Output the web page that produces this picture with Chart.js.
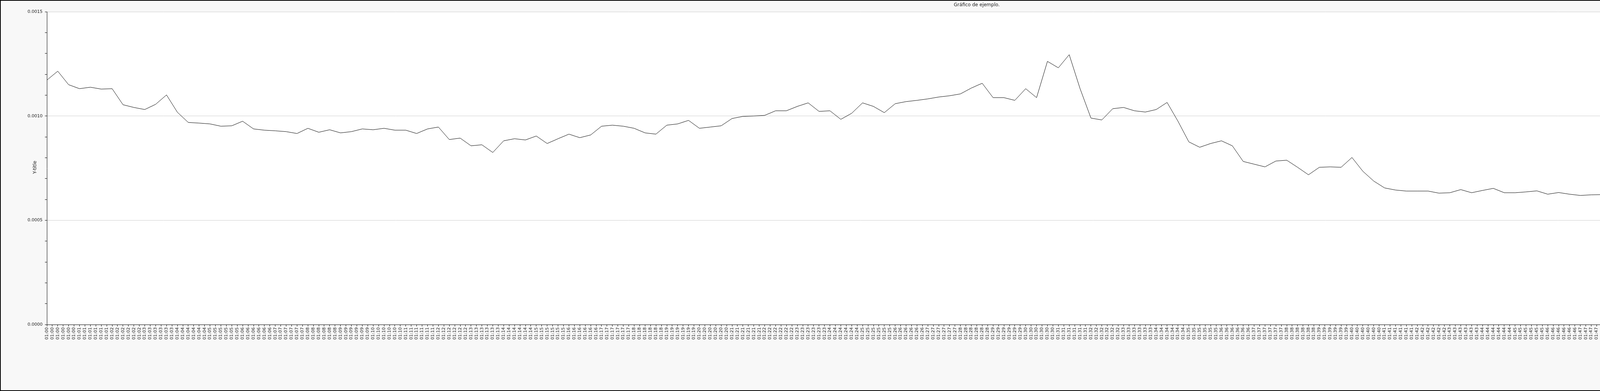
<!DOCTYPE html>
<html>
<head>
<meta charset="utf-8">
<script src="https://cdn.jsdelivr.net/npm/chart.js@4"></script>
<style>
  body { margin: 0; background: #f8f8f8; }
  canvas { display: block; }
</style>
</head>
<body>
<canvas id="chart" width="5000" height="1000"></canvas>
<script>
// seconds since 01:00:00, one reading every 20 s, then the drop to zero
const times = [];
for (let t = 0; t <= 3360; t += 20) times.push(t);
times.push(3372, 3374, 3420);

const values = [
  0.001172, 0.001215, 0.001150, 0.001131, 0.001138, 0.001129, 0.001131, 0.001054, 0.001041, 0.001031,
  0.001056, 0.001101, 0.001018, 0.000969, 0.000966, 0.000962, 0.000951, 0.000953, 0.000975, 0.000938,
  0.000932, 0.000929, 0.000925, 0.000916, 0.000941, 0.000922, 0.000934, 0.000919, 0.000925, 0.000938,
  0.000934, 0.000941, 0.000932, 0.000932, 0.000916, 0.000938, 0.000947, 0.000887, 0.000894, 0.000857,
  0.000862, 0.000825, 0.000881, 0.000891, 0.000885, 0.000904, 0.000868, 0.000891, 0.000913, 0.000896,
  0.000909, 0.000951, 0.000956, 0.000951, 0.000941, 0.000919, 0.000913, 0.000956, 0.000962, 0.000979,
  0.000941, 0.000947, 0.000953, 0.000988, 0.000998, 0.001000, 0.001003, 0.001025, 0.001025, 0.001046,
  0.001063, 0.001022, 0.001025, 0.000984, 0.001013, 0.001063, 0.001046, 0.001016, 0.001059, 0.001069,
  0.001075, 0.001082, 0.001091, 0.001097, 0.001106, 0.001134, 0.001157, 0.001088, 0.001088, 0.001075,
  0.001131, 0.001088, 0.001262, 0.001231, 0.001294, 0.001131, 0.000990, 0.000981, 0.001035, 0.001041,
  0.001025, 0.001019, 0.001031, 0.001065, 0.000975, 0.000876, 0.000850, 0.000868, 0.000881, 0.000857,
  0.000782, 0.000769, 0.000756, 0.000784, 0.000788, 0.000754, 0.000718, 0.000754, 0.000756, 0.000754,
  0.000801, 0.000735, 0.000688, 0.000655, 0.000645, 0.000640, 0.000640, 0.000640, 0.000630, 0.000632,
  0.000647, 0.000632, 0.000643, 0.000653, 0.000632, 0.000632, 0.000636, 0.000641, 0.000625, 0.000633,
  0.000625, 0.000619, 0.000622, 0.000623, 0.000638, 0.000650, 0.000647, 0.000636, 0.000628, 0.000609,
  0.000619, 0.000609, 0.000609, 0.000603, 0.000619, 0.000620, 0.000628, 0.000625, 0.000624, 0.000619,
  0.000622, 0.000613, 0.000603, 0.000603, 0.000600, 0.000606, 0.000624, 0.000634, 0.000600,
  0.000591, 0, 0
];

const yLabelSteps = [0, 0.0005, 0.001, 0.0015];

const points = times.map((t, i) => ({ x: t, y: values[i] }));

function isMajor(v) {
  return yLabelSteps.some(s => Math.abs(s - v) < 1e-9);
}

function pad(n) {
  return String(n).padStart(2, "0");
}

const frame = {
  id: "frame",
  beforeDraw(chart) {
    const ctx = chart.ctx;
    const a = chart.chartArea;
    ctx.save();
    ctx.fillStyle = "#f8f8f8";
    ctx.fillRect(0, 0, chart.width, chart.height);
    ctx.fillStyle = "#ffffff";
    ctx.fillRect(a.left, a.top, a.right - a.left, a.bottom - a.top);
    ctx.restore();
  },
  afterDraw(chart) {
    const ctx = chart.ctx;
    const a = chart.chartArea;
    ctx.save();
    ctx.strokeStyle = "#000";
    ctx.lineWidth = 2;
    ctx.strokeRect(1, 1, chart.width - 2, chart.height - 2);
    ctx.fillStyle = "#222";
    ctx.font = "12px 'DejaVu Sans'";
    ctx.textAlign = "center";
    ctx.textBaseline = "middle";
    ctx.fillText("Gráfico de ejemplo.", (a.left + a.right) / 2, 13);
    ctx.fillText("X-title", a.right - 10, 853);
    ctx.translate(90, 428);
    ctx.rotate(-Math.PI / 2);
    ctx.fillText("Y-title", 0, 0);
    ctx.restore();
  }
};

new Chart(document.getElementById("chart").getContext("2d"), {
  type: "line",
  data: {
    datasets: [{
      data: points,
      borderColor: "#000",
      borderWidth: 1,
      pointRadius: 0,
      tension: 0,
      fill: false
    }]
  },
  options: {
    responsive: false,
    animation: false,
    devicePixelRatio: 1,
    layout: { padding: { left: 0, right: 119, top: 30, bottom: 0 } },
    plugins: {
      legend: { display: false },
      tooltip: { enabled: false }
    },
    scales: {
      x: {
        type: "linear",
        min: 0,
        max: 3420,
        afterFit: s => { s.height = 170; },
        border: { color: "#000", width: 1 },
        grid: { drawOnChartArea: false, tickColor: "#000", tickLength: 5 },
        ticks: {
          stepSize: 10,
          autoSkip: false,
          maxRotation: 90,
          minRotation: 90,
          padding: 2,
          color: "#222",
          font: { family: "DejaVu Sans", size: 11 },
          callback: v => "01:" + pad(Math.floor(v / 60))
        }
      },
      y: {
        min: 0,
        max: 0.0015,
        afterFit: s => { s.width = 120; },
        border: { color: "#000", width: 1 },
        grid: {
          color: ctx => isMajor(ctx.tick.value) ? "#cccccc" : "rgba(0,0,0,0)",
          tickColor: "#000",
          tickLength: 5
        },
        ticks: {
          stepSize: 0.0001,
          autoSkip: false,
          padding: 6,
          color: "#222",
          font: { family: "DejaVu Sans", size: 11 },
          callback: v => isMajor(v) ? v.toFixed(4) : ""
        }
      }
    }
  },
  plugins: [frame]
});
</script>
</body>
</html>
